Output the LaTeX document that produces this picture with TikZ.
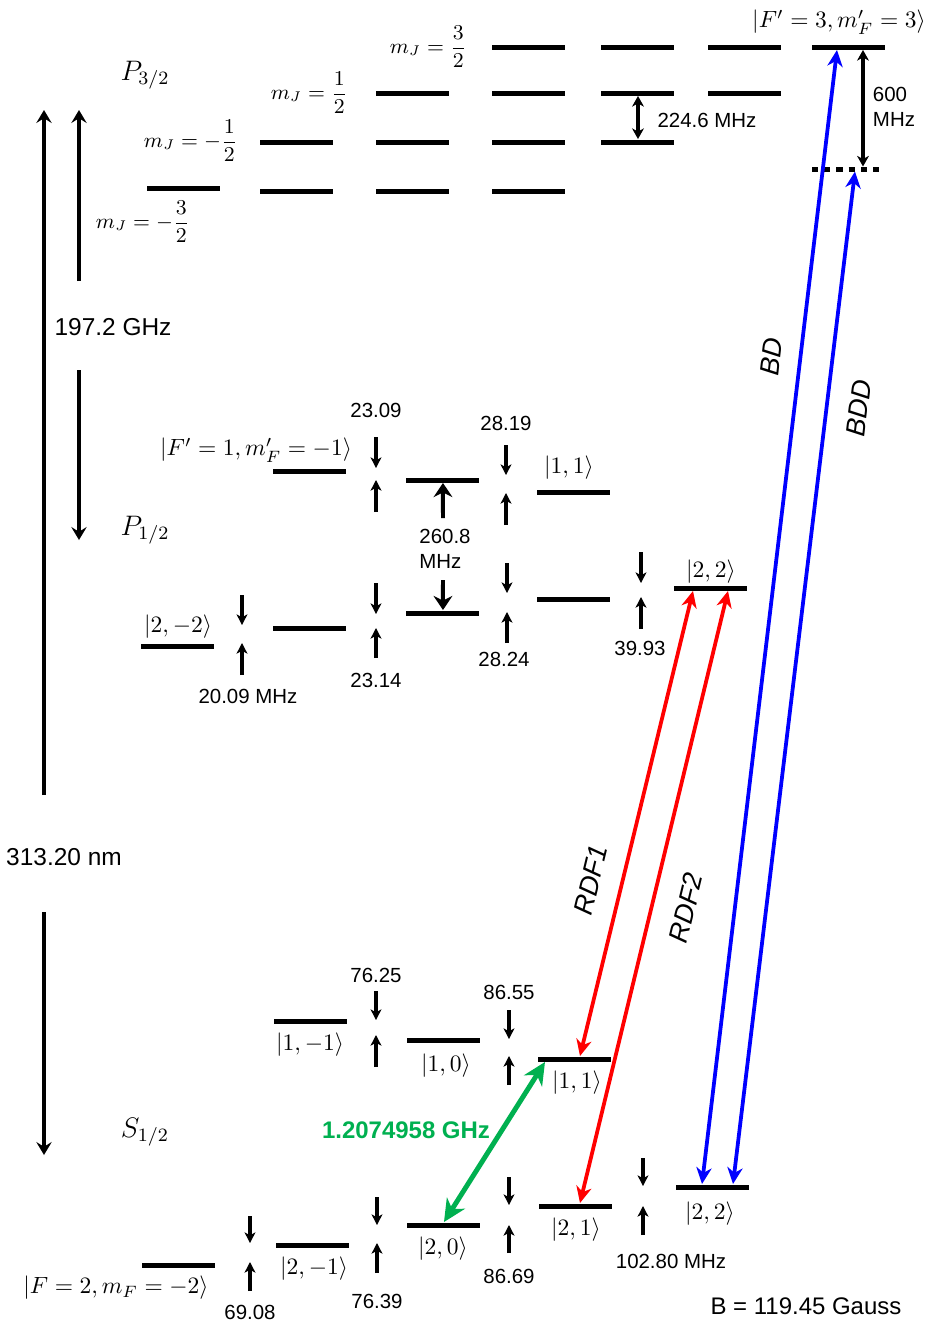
\documentclass[tikz,border=0pt]{standalone}
\usepackage{amsmath}
\usepackage[no-math]{fontspec}
\setsansfont{Liberation Sans}
\usetikzlibrary{arrows.meta,calc}
\definecolor{bdblue}{RGB}{0,0,255}
\definecolor{rdfred}{RGB}{255,0,0}
\definecolor{hfgreen}{RGB}{0,176,80}
\newcommand\zsplit[5]{\draw[zarr] (#1,#2) -- (#1,#3); \draw[zarr] (#1,#4) -- (#1,#5);}
\begin{document}
\begin{tikzpicture}[x=0.4255pt,y=-0.4255pt,
 lvl/.style={fill=black,inner sep=0pt,minimum width=31.06pt,minimum height=2.13pt,anchor=west},
 num/.style={font=\sffamily\fontsize{8.7}{10.4}\selectfont,inner sep=0pt},
 bigtxt/.style={font=\sffamily\fontsize{10.4}{12.5}\selectfont,inner sep=0pt},
 rottxt/.style={font=\sffamily\itshape\fontsize{11.5}{13}\selectfont,inner sep=0pt},
 ket/.style={inner sep=0pt},
 mjlab/.style={inner sep=0pt,anchor=east,font=\fontsize{8.8}{10.5}\selectfont},
 term/.style={font=\fontsize{12}{14}\selectfont,inner sep=0pt},
 zarr/.style={line width=1.3pt,-{Stealth[length=4.5pt,width=4.6pt,inset=1.2pt]}},
 bigarr/.style={line width=1.3pt,-{Stealth[length=5.5pt,width=6.5pt,inset=2pt]}},
 midarr/.style={line width=1.7pt,-{Stealth[length=6pt,width=8pt,inset=2pt]}},
 gaparr/.style={line width=1.3pt,>={Stealth[length=4.5pt,width=5pt,inset=1.3pt]},<->},
 bdarr/.style={draw=bdblue,line width=1.6pt,>={Stealth[length=7pt,width=6.5pt,inset=2.2pt]},<->},
 rdfarr/.style={draw=rdfred,line width=1.6pt,>={Stealth[length=7pt,width=6.5pt,inset=2.2pt]},<->},
 hfarr/.style={draw=hfgreen,line width=2.1pt,>={Stealth[length=9.5pt,width=9pt,inset=3pt]},<->},
 dotlvl/.style={line width=2.13pt,dash pattern=on 2.6pt off 2.6pt}
]
\useasboundingbox (0,0) rectangle (931,1324);

% ---------------- P3/2 ----------------
\node[lvl] (m1) at (147,188) {};
\node[lvl] (c2a) at (260,191) {};
\node[lvl] (c2b) at (260,142) {};
\node[lvl] (c3a) at (376,191) {};
\node[lvl] (c3b) at (376,142) {};
\node[lvl] (c3c) at (376,93) {};
\node[lvl] (c4a) at (492,191) {};
\node[lvl] (c4b) at (492,142) {};
\node[lvl] (c4c) at (492,93) {};
\node[lvl] (c4d) at (492,47) {};
\node[lvl] (c5b) at (601,142) {};
\node[lvl] (c5c) at (601,93) {};
\node[lvl] (c5d) at (601,47) {};
\node[lvl] (c6c) at (708,93) {};
\node[lvl] (c6d) at (708,47) {};
\node[lvl] (Fp3) at (812,47) {};
\coordinate (dotL) at (812,169);
\coordinate (dotR) at (879,169);
\draw[dotlvl] (dotL) -- (dotR);

\node[mjlab] (mj32) at (467,47) {$m_J=\dfrac{3}{2}$};
\node[mjlab] (mj12) at (348,93) {$m_J=\dfrac{1}{2}$};
\node[mjlab] (mjm12) at (238,141) {$m_J=-\dfrac{1}{2}$};
\node[mjlab] (mjm32) at (190,222) {$m_J=-\dfrac{3}{2}$};
\node[term] (P32) at (145,75) {$P_{3/2}$};
\node[ket] (Fp3lab) at (839,22) {$|F'=3,m'_F=3\rangle$};

\draw[gaparr] ($(c5c.south west)+(37,0)$) -- ($(c5b.north west)+(37,0)$);
\node[num] (g224) at (707,120) {224.6 MHz};
\draw[gaparr] ($(Fp3.south west)+(51,0)$) -- ($(dotL)+(51,-2.5)$);
\node[num,align=left] (g600) at (894,107) {600\\MHz};

% ---------------- P1/2 ----------------
\node[lvl] (f1m1) at (273,471) {};
\node[lvl] (f10) at (406,480) {};
\node[lvl] (f11) at (537,492) {};
\node[lvl] (f2m2) at (141,646) {};
\node[lvl] (f2m1) at (273,628) {};
\node[lvl] (f20) at (406,613) {};
\node[lvl] (f21) at (537,599) {};
\node[lvl] (f22) at (674,588) {};

\node[ket] (lf1m1) at (256,450) {$|F'=1,m'_F=-1\rangle$};
\node[ket] (lf11) at (569,468) {$|1,1\rangle$};
\node[ket] (lf2m2) at (178,627) {$|2,-2\rangle$};
\node[ket] (lf22) at (711,572) {$|2,2\rangle$};
\node[term] (P12) at (145,530) {$P_{1/2}$};

\zsplit{376}{437}{468}{512}{480}
\node[num] at (376,410) {23.09};
\zsplit{506}{445}{475}{525}{493}
\node[num] at (506,423) {28.19};
\zsplit{242}{595}{625}{675}{643}
\node[num] at (248,696) {20.09 MHz};
\zsplit{376}{583}{614}{658}{628}
\node[num] at (376,680) {23.14};
\zsplit{507}{563}{593}{643}{612}
\node[num] at (504,659) {28.24};
\zsplit{641}{552}{583}{629}{597}
\node[num] at (640,648) {39.93};

\draw[midarr] (443,518) -- (f10.south);
\draw[midarr] (443,580) -- (f20.north);
\node[num,align=left] (hf260) at (445,549) {260.8\\MHz};

% ---------------- S1/2 ----------------
\node[lvl] (s1m1) at (274,1021) {};
\node[lvl] (s10) at (407,1040) {};
\node[lvl] (s11) at (538,1059) {};
\node[lvl] (s2m2) at (142,1265) {};
\node[lvl] (s2m1) at (276,1245) {};
\node[lvl] (s20) at (407,1225) {};
\node[lvl] (s21) at (539,1206) {};
\node[lvl] (s22) at (676,1187) {};

\node[ket] at (310,1045) {$|1,-1\rangle$};
\node[ket] at (446,1066) {$|1,0\rangle$};
\node[ket] at (577,1083) {$|1,1\rangle$};
\node[ket] at (116,1288) {$|F=2,m_F=-2\rangle$};
\node[ket] at (314,1269) {$|2,-1\rangle$};
\node[ket] at (443,1249) {$|2,0\rangle$};
\node[ket] at (576,1230) {$|2,1\rangle$};
\node[ket] at (710,1214) {$|2,2\rangle$};
\node[term] (S12) at (145,1132) {$S_{1/2}$};

\zsplit{376}{991}{1020}{1067}{1035}
\node[num] at (376,975) {76.25};
\zsplit{509}{1010}{1039}{1085}{1056}
\node[num] at (509,992) {86.55};
\zsplit{250}{1216}{1243}{1291}{1262}
\node[num] at (250,1312) {69.08};
\zsplit{377}{1197}{1225}{1273}{1243}
\node[num] at (377,1301) {76.39};
\zsplit{509}{1177}{1205}{1253}{1225}
\node[num] at (509,1276) {86.69};
\zsplit{643}{1158}{1186}{1235}{1206}
\node[num] at (671,1261) {102.80 MHz};

% ---------------- left scale arrows ----------------
\coordinate (Lt) at (44,110);
\coordinate (La) at (44,795);
\coordinate (Lb) at (44,912);
\coordinate (Lbot) at (44,1155);
\draw[bigarr] (La) -- (Lt);
\draw[bigarr] (Lb) -- (Lbot);
\node[bigtxt] (wl) at (64,857) {313.20 nm};
\coordinate (Mt) at (79,110);
\coordinate (Ma) at (79,281);
\coordinate (Mb) at (79,370);
\coordinate (Mbot) at (79,540);
\draw[bigarr] (Ma) -- (Mt);
\draw[bigarr] (Mb) -- (Mbot);
\node[bigtxt] (fs) at (113,327) {197.2 GHz};

% ---------------- laser transitions ----------------
\draw[bdarr] ($(s22.north west)+(26,0)$) -- ($(Fp3.south west)+(25,0)$);
\draw[bdarr] ($(s22.north west)+(57,0)$) -- ($(dotL)+(43,2.5)$);
\node[rottxt,rotate=83.3] at (771,357) {BD};
\node[rottxt,rotate=83.1] at (859,408) {BDD};

\draw[rdfarr] ($(f22.south west)+(19,0)$) -- ($(s11.north west)+(42,0)$);
\draw[rdfarr] ($(f22.south west)+(54,0)$) -- ($(s21.north west)+(41,0)$);
\node[rottxt,rotate=76.4] at (591,880) {RDF1};
\node[rottxt,rotate=76.4] at (686,908) {RDF2};

\draw[hfarr] ($(s11.south west)+(7,0)$) -- (s20.north);
\node[bigtxt,font=\sffamily\bfseries\fontsize{10.2}{12}\selectfont,text=hfgreen] at (406,1130) {1.2074958 GHz};

\node[bigtxt,font=\sffamily\fontsize{10.2}{12}\selectfont] at (806,1306) {B = 119.45 Gauss};
\end{tikzpicture}
\end{document}
